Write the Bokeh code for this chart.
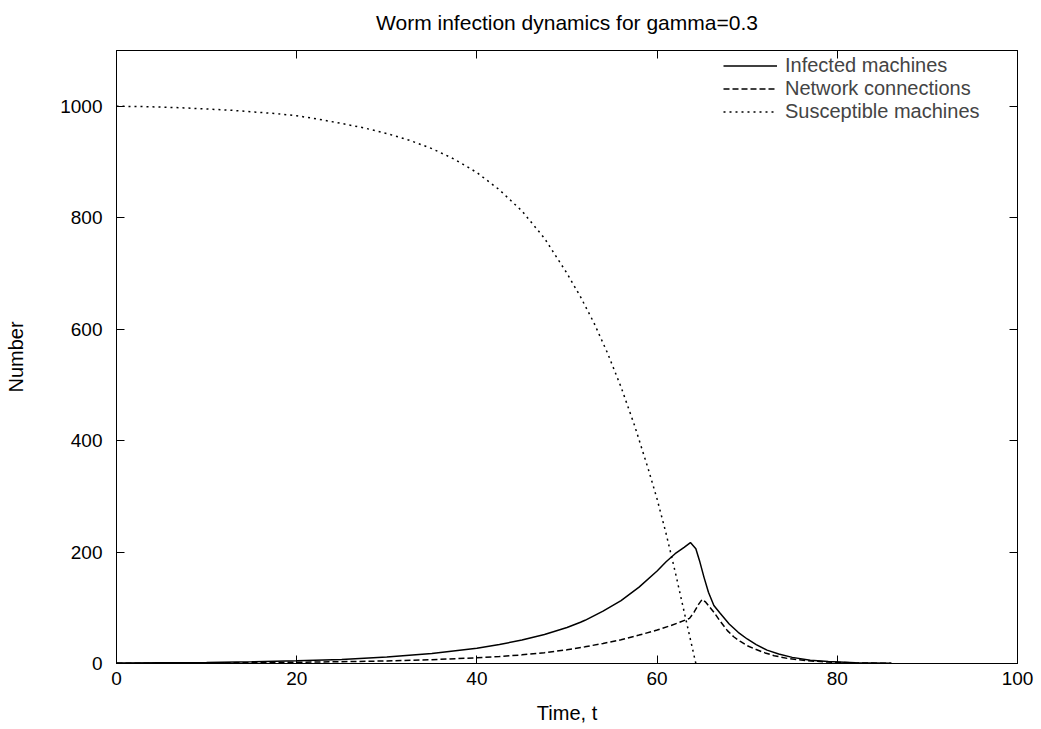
from bokeh.plotting import figure
from bokeh.models import Range1d, LinearAxis, FixedTicker, Legend, LegendItem, CustomLabelingPolicy
from bokeh.embed import file_html
from bokeh.resources import INLINE

# ---- data ----
inf_t = [0, 5, 10, 15, 20, 25, 30, 35, 40, 42.5, 45, 47.5, 50, 51.5, 52, 54, 56, 58, 60, 61, 62, 63, 63.7,
         64.3, 64.7, 65.2, 65.7, 66.3, 67, 68, 69, 70, 71, 72.2, 73.5, 75, 77, 79, 82, 86]
inf_n = [0.8, 1.2, 1.9, 3.0, 4.8, 7.4, 11.5, 17.8, 27.5, 34, 42, 52, 64.5, 74, 77.5, 94, 113, 137, 166, 182.5, 197, 208.5, 217,
         206, 185, 155, 128, 104, 90, 71, 56, 44, 34, 24, 17, 11, 6, 3.5, 1.5, 0.4]

net_t = [0, 5, 10, 15, 20, 25, 30, 35, 40, 42.5, 45, 47.5, 50, 52, 54, 56, 58, 60, 61.5, 62.5, 63.6,
         64.1, 64.6, 65.0, 65.4, 65.9, 66.3, 67, 67.8, 68.5, 69.2, 70, 71, 72, 73, 74.5, 76.7, 79, 82, 86]
net_n = [0.3, 0.6, 1, 1.5, 2.2, 3.2, 4.6, 6.8, 10.3, 12.5, 15.5, 19.5, 24.5, 30, 36, 42.5, 51, 60, 68, 74, 81,
         92, 106, 115, 110, 100, 92, 76, 59, 48, 40, 32, 25, 19, 14, 9, 5, 2.5, 1.2, 0.3]

sus_t = [0, 2.5, 5, 7.5, 10, 12.5, 15, 17.5, 20, 22.5, 25, 27.5, 30, 32.5, 35, 37.5, 40, 42.5, 45, 47.5,
         50, 51.5, 53, 54.5, 56, 57.5, 59, 60, 61, 62, 63, 64.3]
sus_n = [1000, 999.5, 998.5, 997, 995, 993, 990, 987, 983, 976.5, 969, 961, 951, 939, 924, 905, 881, 850, 812, 763,
         700, 658, 611, 557, 496, 427, 350, 295, 233, 165, 93, 0]

x_ticks = [0, 20, 40, 60, 80, 100]
y_ticks = [0, 200, 400, 600, 800, 1000]

title_text = "Worm infection dynamics for gamma=0.3"
x_label = "Time, t"
y_label = "Number"
labels = ["Infected machines", "Network connections", "Susceptible machines"]

FONT = "Liberation Sans"

p = figure(width=1041, height=729, output_backend="svg", toolbar_location=None,
           x_range=Range1d(0, 100), y_range=Range1d(0, 1100),
           min_border_left=116, min_border_right=24, min_border_top=50, min_border_bottom=66)

p.title.text = title_text
p.title.align = "center"
p.title.text_font = FONT
p.title.text_font_size = "21px"
p.title.text_font_style = "normal"
p.title.text_color = "black"

p.xgrid.visible = False
p.ygrid.visible = False
p.outline_line_color = "black"
p.outline_line_width = 1

def style_axis(ax, show=True, hidden_size="0px"):
    ax.major_tick_in = 8
    ax.major_tick_out = 0
    ax.minor_tick_line_color = None
    ax.axis_line_color = "black"
    ax.major_tick_line_color = "black"
    ax.major_label_text_font = FONT
    ax.major_label_text_font_size = "19px" if show else hidden_size
    ax.major_label_text_color = "black"
    ax.axis_label_text_font = FONT
    ax.axis_label_text_font_size = "20px"
    ax.axis_label_text_font_style = "normal"
    ax.axis_label_text_color = "black"
    if not show:
        ax.major_label_standoff = 0
        ax.major_label_policy = CustomLabelingPolicy(code="return new Set()")

p.xaxis.ticker = FixedTicker(ticks=x_ticks)
p.yaxis.ticker = FixedTicker(ticks=y_ticks)
p.xaxis.axis_label = x_label
p.yaxis.axis_label = y_label
for ax in p.xaxis + p.yaxis:
    style_axis(ax)
p.xaxis.major_label_standoff = 8
p.xaxis.axis_label_standoff = 14
p.yaxis.major_label_standoff = 14
p.yaxis.axis_label_standoff = 30

# top axis: ticks only; its (never drawn) labels reserve room that lifts the title
top_ax = LinearAxis(ticker=FixedTicker(ticks=x_ticks))
right_ax = LinearAxis(ticker=FixedTicker(ticks=y_ticks))
style_axis(top_ax, False, hidden_size="8px")
top_ax.major_label_standoff = 4
style_axis(right_ax, False)
p.add_layout(top_ax, "above")
p.add_layout(right_ax, "right")

r1 = p.line(inf_t, inf_n, line_color="black", line_width=1.5)
r2 = p.line(net_t, net_n, line_color="black", line_width=1.5, line_dash="6 3")
r3 = p.line(sus_t, sus_n, line_color="black", line_width=1.5, line_dash="2 4")

legend = Legend(items=[LegendItem(label=labels[0], renderers=[r1]),
                       LegendItem(label=labels[1], renderers=[r2]),
                       LegendItem(label=labels[2], renderers=[r3])],
                location=(607, 540), border_line_color=None, background_fill_alpha=0,
                label_text_font=FONT, label_text_font_size="20px", glyph_width=54,
                glyph_height=21, label_height=21, spacing=0, padding=0, margin=0,
                label_standoff=8)
p.add_layout(legend, "center")

open("out.html", "w").write(file_html(p, INLINE))
